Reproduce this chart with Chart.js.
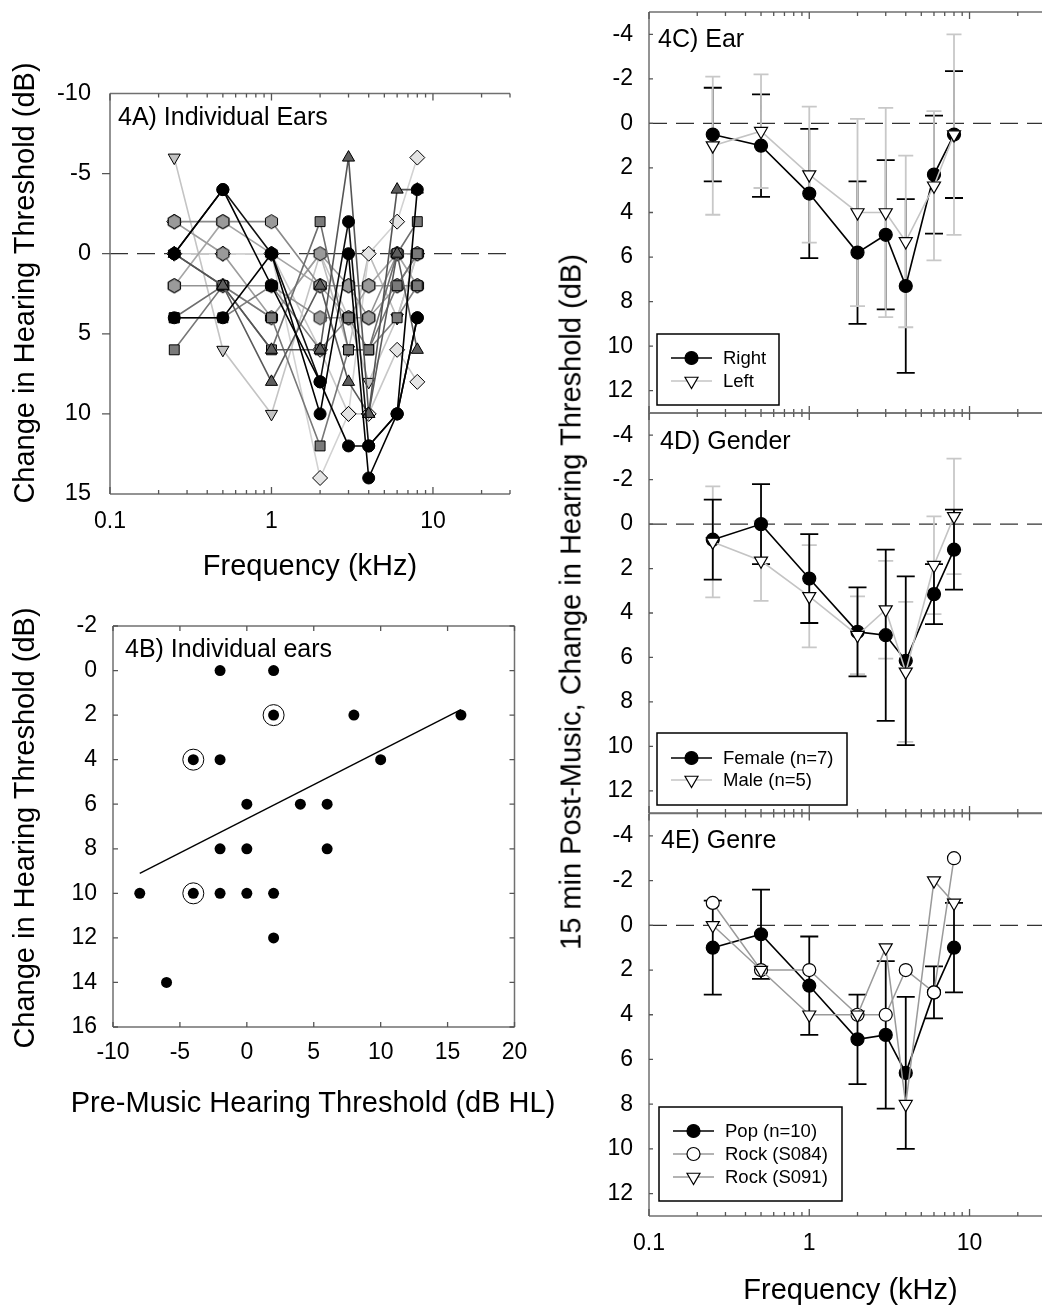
<!DOCTYPE html>
<html><head><meta charset="utf-8">
<script src="https://cdn.jsdelivr.net/npm/chart.js@4.4.1/dist/chart.umd.min.js"></script>
<style>
html,body{margin:0;padding:0;background:#fff;}
#page{position:relative;width:1042px;height:1307px;overflow:hidden;background:#fff;font-family:"Liberation Sans",Arial,sans-serif;color:#000;}
canvas{position:absolute;left:0;}
.t{position:absolute;white-space:nowrap;line-height:1;}
.rot{transform:translate(-50%,-50%) rotate(-90deg);}
.ctr{transform:translate(-50%,0);}
.pl{font-size:25px;}
.ax{font-size:29px;}
</style></head><body><div id="page">
<canvas id="cA" width="1042" height="1347" style="top:-40px"></canvas>
<canvas id="cB" width="1042" height="1347" style="top:-40px"></canvas>
<canvas id="cC" width="1060" height="1347" style="top:-40px"></canvas>
<canvas id="cD" width="1060" height="1347" style="top:-40px"></canvas>
<canvas id="cE" width="1060" height="1347" style="top:-40px"></canvas>
<div class="t pl" style="left:118px;top:104px;">4A) Individual Ears</div>
<div class="t pl" style="left:125px;top:635.5px;">4B) Individual ears</div>
<div class="t pl" style="left:658px;top:25.5px;">4C) Ear</div>
<div class="t pl" style="left:660px;top:428px;">4D) Gender</div>
<div class="t pl" style="left:661px;top:827px;">4E) Genre</div>
<div class="t ax ctr" style="left:310px;top:550.5px;">Frequency (kHz)</div>
<div class="t ax ctr" style="left:313px;top:1088px;">Pre-Music Hearing Threshold (dB HL)</div>
<div class="t ax ctr" style="left:850.5px;top:1274.5px;">Frequency (kHz)</div>
<div class="t ax rot" style="left:24px;top:283px;">Change in Hearing Threshold (dB)</div>
<div class="t ax rot" style="left:24px;top:828px;">Change in Hearing Threshold (dB)</div>
<div class="t ax rot" style="left:571px;top:602px;">15 min Post-Music, Change in Hearing Threshold (dB)</div>
</div>
<script>
// ================= DATA =================
const freqsKHz = [0.25, 0.5, 1, 2, 3, 4, 6, 8];
const freqTickValues = [0.1,0.2,0.3,0.4,0.5,0.6,0.7,0.8,0.9,1,2,3,4,5,6,7,8,9,10,20,30];
const freqLabelValues = [0.1, 1, 10];
const freqLabelTexts = ['0.1', '1', '10'];

// 4A) individual ears (change in threshold, dB)
const earB1 = [0, -4, 2, 8, 12, 12, 10, 4];
const earB2 = [4, 4, 0, 10, 0, 14, 10, -4];
const earB3 = [0, -4, 0, 8, -2, 12, 10, 4];
const earT1 = [0, 2, 6, 6, -6, 10, -4, -4];
const earT2 = [0, 2, 8, 2, 8, 10, 0, 6];
const earS1 = [4, 2, 6, -2, 6, 6, 0, -2];
const earS2 = [6, 2, 4, 12, 6, 6, 2, 0];
const earS3 = [4, 4, 2, 6, 4, 6, 4, 2];
const earH1 = [-2, -2, -2, 2, 2, 2, 2, 2];
const earH2 = [2, 2, 2, 4, 4, 4, 0, 0];
const earH3 = [-2, 0, 4, 0, 2, 4, 2, 0];
const earH4 = [2, -2, 0, 2, 4, 2, 0, 2];
const earD1 = [-2, 0, 0, 14, 10, 0, -2, -6];
const earD2 = [0, 0, 0, 6, 10, 10, 6, 8];
const earTD1 = [-6, 6, 10, 0, 4, 8, 4, 0];
const earTD2 = [0, 2, 4, 0, 6, 0, 4, 0];
const panelAYTicks = [-10, -5, 0, 5, 10, 15];

// 4B) threshold shift vs pre-music threshold
const preMusicHL = [-2, 2, 2, 8, 16, -4, -2, 10, 0, 4, 6, -2, 0, 6, -8, -4, -2, 0, 2, 2, -6];
const shiftDB    = [0, 0, 2, 2, 2, 4, 4, 4, 6, 6, 6, 8, 8, 8, 10, 10, 10, 10, 10, 12, 14];
const circledHL = [2, -4, -4];
const circledShift = [2, 4, 10];
const fitHL = [-8, 16];
const fitShift = [9.1, 1.75];
const panelBXTicks = [-10, -5, 0, 5, 10, 15, 20];
const panelBYTicks = [-2, 0, 2, 4, 6, 8, 10, 12, 14, 16];

// 4C) ear
const rightMean = [0.5, 1.0, 3.15, 5.8, 5.0, 7.3, 2.3, 0.5];
const rightSD   = [2.1, 2.3, 2.9, 3.2, 3.35, 3.9, 2.65, 2.85];
const leftMean  = [1.0, 0.35, 2.3, 4.0, 4.0, 5.3, 2.8, 0.5];
const leftSD    = [3.1, 2.55, 3.05, 4.2, 4.7, 3.85, 3.35, 4.5];
// 4D) gender
const femaleMean = [0.7, 0.0, 2.45, 4.85, 5.0, 6.15, 3.15, 1.15];
const femaleSD   = [1.8, 1.8, 2.0, 2.0, 3.85, 3.8, 1.35, 1.8];
const maleMean   = [0.8, 1.65, 3.25, 5.0, 3.85, 6.65, 1.85, -0.35];
const maleSD     = [2.5, 1.8, 2.3, 1.75, 2.2, 3.15, 2.2, 2.6];
// 4E) genre
const popMean  = [1.0, 0.4, 2.7, 5.1, 4.9, 6.6, 3.0, 1.0];
const popSD    = [2.1, 2.0, 2.2, 2.0, 3.3, 3.4, 1.16, 2.0];
const rockS084 = [-1, 2, 2, 4, 4, 2, 3, -3];
const rockS091 = [0, 2, 4, 4, 1, 8, -2, -1];
const meanPanelYTicks = [-4, -2, 0, 2, 4, 6, 8, 10, 12];

// ================= HELPERS =================
const FONT = '"Liberation Sans", Arial, sans-serif';
Chart.defaults.font.family = FONT;
Chart.defaults.color = '#000';
const PAGE_H = 1307;
const OFF = 40; // canvases start 40px above the page so top labels never push the plot

function pts(xs, ys) { return ys.map((v, i) => ({ x: xs[i], y: v })); }

function hexImage(fill, r) {
  const c = document.createElement('canvas');
  const s = Math.ceil(2 * r + 3);
  c.width = s; c.height = s;
  const g = c.getContext('2d');
  g.beginPath();
  for (let k = 0; k < 6; k++) {
    const a = -Math.PI / 2 + k * Math.PI / 3;
    const px = s / 2 + r * Math.cos(a), py = s / 2 + r * Math.sin(a);
    if (k === 0) g.moveTo(px, py); else g.lineTo(px, py);
  }
  g.closePath();
  g.fillStyle = fill; g.fill();
  g.strokeStyle = '#000'; g.lineWidth = 1; g.stroke();
  return c;
}

function drawMarker(ctx, m, x, y) {
  ctx.save();
  ctx.beginPath();
  if (m.shape === 'circle') {
    ctx.arc(x, y, m.r, 0, Math.PI * 2);
  } else {
    let rad = Math.PI;
    for (let k = 0; k < 3; k++) {
      const px = x + Math.sin(rad) * m.r, py = y - Math.cos(rad) * m.r;
      if (k === 0) ctx.moveTo(px, py); else ctx.lineTo(px, py);
      rad += 2 * Math.PI / 3;
    }
    ctx.closePath();
  }
  ctx.fillStyle = m.fill; ctx.fill();
  ctx.strokeStyle = '#000'; ctx.lineWidth = 1.2; ctx.stroke();
  ctx.restore();
}

function framePlugin(o) {
  return {
    id: 'frame',
    afterDatasetsDraw(chart) {
      const { ctx, chartArea: a, scales: { x, y } } = chart;
      ctx.save();
      ctx.strokeStyle = '#707070'; ctx.lineWidth = 1.5;
      ctx.beginPath();
      if (o.left) { ctx.moveTo(a.left, a.top); ctx.lineTo(a.left, a.bottom); }
      if (o.right) { ctx.moveTo(a.right, a.top); ctx.lineTo(a.right, a.bottom); }
      if (o.top) { ctx.moveTo(a.left, a.top); ctx.lineTo(a.right, a.top); }
      if (o.bottom) { ctx.moveTo(a.left, a.bottom); ctx.lineTo(a.right, a.bottom); }
      ctx.stroke();
      ctx.strokeStyle = '#555'; ctx.lineWidth = 1.3;
      ctx.beginPath();
      (o.xTicks || []).forEach(v => {
        const px = x.getPixelForValue(v);
        const L = (o.xMajor || []).includes(v) ? o.xMajorLen : o.xLen;
        if (o.top) { ctx.moveTo(px, a.top); ctx.lineTo(px, a.top + L); }
        if (o.bottom) { ctx.moveTo(px, a.bottom); ctx.lineTo(px, a.bottom - L); }
      });
      (o.yTicks || []).forEach(v => {
        const py = y.getPixelForValue(v);
        if (o.yLeft) { ctx.moveTo(a.left, py); ctx.lineTo(a.left + o.yLeft, py); }
        if (o.yRight) { ctx.moveTo(a.right, py); ctx.lineTo(a.right - o.yRight, py); }
      });
      ctx.stroke();
      ctx.restore();
    }
  };
}

const zeroLinePlugin = {
  id: 'zeroline',
  beforeDatasetsDraw(chart) {
    const { ctx, chartArea: a, scales: { y } } = chart;
    const py = y.getPixelForValue(0);
    ctx.save();
    ctx.strokeStyle = '#333'; ctx.lineWidth = 1.3; ctx.setLineDash([18, 9]);
    ctx.beginPath(); ctx.moveTo(a.left, py); ctx.lineTo(a.right, py); ctx.stroke();
    ctx.restore();
  }
};

function errorBarPlugin(list) {
  return {
    id: 'errbars',
    beforeDatasetsDraw(chart) {
      const { ctx, scales: { x, y } } = chart;
      ctx.save();
      list.forEach(eb => {
        ctx.strokeStyle = eb.color; ctx.lineWidth = eb.width;
        ctx.beginPath();
        eb.mean.forEach((m, i) => {
          const px = x.getPixelForValue(freqsKHz[i]);
          const y1 = y.getPixelForValue(m - eb.sd[i]);
          const y2 = y.getPixelForValue(m + eb.sd[i]);
          ctx.moveTo(px, y1); ctx.lineTo(px, y2);
          ctx.moveTo(px - eb.cap, y1); ctx.lineTo(px + eb.cap, y1);
          ctx.moveTo(px - eb.cap, y2); ctx.lineTo(px + eb.cap, y2);
        });
        ctx.stroke();
      });
      ctx.restore();
    }
  };
}

function legendPlugin(box) {
  return {
    id: 'legbox',
    afterDatasetsDraw(chart) {
      const ctx = chart.ctx;
      const by = box.y + OFF;
      ctx.save();
      ctx.fillStyle = '#fff';
      ctx.fillRect(box.x, by, box.w, box.h);
      ctx.strokeStyle = '#000'; ctx.lineWidth = 1.5;
      ctx.strokeRect(box.x, by, box.w, box.h);
      box.items.forEach((it, k) => {
        const cy = by + box.first + k * box.gap;
        ctx.strokeStyle = it.line; ctx.lineWidth = 1.5;
        ctx.beginPath(); ctx.moveTo(box.x + 14, cy); ctx.lineTo(box.x + 55, cy); ctx.stroke();
        drawMarker(ctx, it, box.x + 34.5, cy);
        ctx.fillStyle = '#000';
        ctx.font = '18.5px ' + FONT;
        ctx.textBaseline = 'middle';
        ctx.fillText(it.label, box.x + 66, cy + 1);
      });
      ctx.restore();
    }
  };
}

function logX(showLabels) {
  return {
    type: 'logarithmic', min: 0.1, max: 30,
    afterBuildTicks: s => { s.ticks = freqTickValues.map(v => ({ value: v })); },
    ticks: {
      autoSkip: false, maxRotation: 0, padding: 14, font: { size: 23 },
      callback: v => { if (!showLabels) return ''; const i = freqLabelValues.indexOf(v); return i >= 0 ? freqLabelTexts[i] : ''; }
    }
  };
}

function makeChart(id, area, canvasW, datasets, xOpt, yOpt, plugins) {
  const noGrid = { display: false, drawTicks: false, tickLength: 0 };
  xOpt.grid = noGrid; xOpt.border = { display: false };
  yOpt.grid = { ...noGrid }; yOpt.border = { display: false };
  xOpt.afterFit = s => { s.height = PAGE_H - area.bottom; };
  yOpt.afterFit = s => { s.width = area.left; };
  return new Chart(document.getElementById(id), {
    type: 'scatter',
    data: { datasets },
    options: {
      responsive: false, animation: false, devicePixelRatio: 1, events: [],
      layout: { autoPadding: false, padding: { left: 0, top: area.top + OFF, right: canvasW - area.right, bottom: 0 } },
      plugins: { legend: { display: false }, tooltip: { enabled: false }, title: { display: false } },
      scales: { x: xOpt, y: yOpt }
    },
    plugins
  });
}

function fixedYTicks(list) { return s => { s.ticks = list.map(v => ({ value: v })); }; }

// ================= 4A =================
const hexMid = hexImage('#9a9a9a', 7);
const earStyles = [
  { v: earB1, ps: 'circle', r: 6, rot: 0, fill: '#000', line: '#000' },
  { v: earB2, ps: 'circle', r: 6, rot: 0, fill: '#000', line: '#000' },
  { v: earB3, ps: 'circle', r: 6, rot: 0, fill: '#000', line: '#111' },
  { v: earT1, ps: 'triangle', r: 7, rot: 0, fill: '#5e5e5e', line: '#555' },
  { v: earT2, ps: 'triangle', r: 7, rot: 0, fill: '#5e5e5e', line: '#5a5a5a' },
  { v: earS1, ps: 'rect', r: 7, rot: 0, fill: '#7a7a7a', line: '#6e6e6e' },
  { v: earS2, ps: 'rect', r: 7, rot: 0, fill: '#7a7a7a', line: '#777' },
  { v: earS3, ps: 'rect', r: 7, rot: 0, fill: '#7a7a7a', line: '#808080' },
  { v: earH1, ps: hexMid, r: 6, rot: 0, fill: '#9a9a9a', line: '#8a8a8a' },
  { v: earH2, ps: hexMid, r: 6, rot: 0, fill: '#9a9a9a', line: '#939393' },
  { v: earH3, ps: hexMid, r: 6, rot: 0, fill: '#9a9a9a', line: '#9c9c9c' },
  { v: earH4, ps: hexMid, r: 6, rot: 0, fill: '#9a9a9a', line: '#a5a5a5' },
  { v: earD1, ps: 'rectRot', r: 7.5, rot: 0, fill: '#e4e4e4', line: '#d2d2d2' },
  { v: earD2, ps: 'rectRot', r: 7.5, rot: 0, fill: '#e4e4e4', line: '#c8c8c8' },
  { v: earTD1, ps: 'triangle', r: 7, rot: 180, fill: '#c2c2c2', line: '#c4c4c4' },
  { v: earTD2, ps: 'triangle', r: 7, rot: 180, fill: '#c2c2c2', line: '#bcbcbc' }
];
const dsA = earStyles.map(s => ({
  data: pts(freqsKHz, s.v), showLine: true, borderColor: s.line, borderWidth: 1.6,
  pointStyle: s.ps, pointRadius: s.r, pointRotation: s.rot,
  pointBackgroundColor: s.fill, pointBorderColor: '#000', pointBorderWidth: 1, clip: false
}));
makeChart('cA', { left: 110, top: 93.5, right: 510, bottom: 494 }, 1042, dsA,
  logX(true),
  { type: 'linear', reverse: true, min: -10, max: 15, afterBuildTicks: fixedYTicks(panelAYTicks),
    ticks: { padding: 19, font: { size: 23.5 } } },
  [zeroLinePlugin, framePlugin({ left: true, top: true, bottom: true, xTicks: freqTickValues, xMajor: freqLabelValues, xLen: 4, xMajorLen: 7, yTicks: [-5, 0, 5, 10], yLeft: -8 })]
);

// ================= 4B =================
const dsB = [
  { data: pts(preMusicHL, shiftDB), pointRadius: 5.5, pointBackgroundColor: '#000', pointBorderWidth: 0, clip: false },
  { data: pts(circledHL, circledShift), pointRadius: 10.5, pointBackgroundColor: 'rgba(0,0,0,0)', pointBorderColor: '#000', pointBorderWidth: 1, clip: false },
  { data: pts(fitHL, fitShift), showLine: true, pointRadius: 0, borderColor: '#000', borderWidth: 1.4 }
];
makeChart('cB', { left: 113, top: 626, right: 514.5, bottom: 1027 }, 1042, dsB,
  { type: 'linear', min: -10, max: 20, afterBuildTicks: fixedYTicks(panelBXTicks), ticks: { padding: 12, font: { size: 23 }, maxRotation: 0, autoSkip: false } },
  { type: 'linear', reverse: true, min: -2, max: 16, afterBuildTicks: fixedYTicks(panelBYTicks), ticks: { padding: 16, font: { size: 23 } } },
  [framePlugin({ left: true, right: true, top: true, bottom: true, xTicks: panelBXTicks, xMajor: [], xLen: 5, yTicks: panelBYTicks, yLeft: 5, yRight: 5 })]
);

// ================= 4C / 4D / 4E =================
function meanDS(vals, line, shape, fill, lw) {
  return {
    data: pts(freqsKHz, vals), showLine: true, borderColor: line, borderWidth: lw || 1.6,
    pointStyle: shape === 'circle' ? 'circle' : 'triangle',
    pointRadius: shape === 'circle' ? 6.5 : 7.5,
    pointRotation: shape === 'circle' ? 0 : 180,
    pointBackgroundColor: fill, pointBorderColor: '#000', pointBorderWidth: 1.2, clip: false
  };
}
const LIGHT = '#c4c4c4';
const MID = '#9a9a9a';
const areaC = { left: 649, top: 12, right: 1047.8, bottom: 413 };
const areaD = { left: 649, top: 413, right: 1047.8, bottom: 813 };
const areaE = { left: 649, top: 813.5, right: 1047.8, bottom: 1216 };
function meanY() {
  return { type: 'linear', reverse: true, min: -5, max: 13, afterBuildTicks: fixedYTicks(meanPanelYTicks), ticks: { padding: 16, font: { size: 23 } } };
}
const meanFrame = () => framePlugin({ left: true, top: true, bottom: true, xTicks: freqTickValues, xMajor: freqLabelValues, xLen: 4, xMajorLen: 7, yTicks: meanPanelYTicks, yLeft: 4 });

makeChart('cC', areaC, 1060,
  [meanDS(leftMean, LIGHT, 'tri', '#fff'), meanDS(rightMean, '#000', 'circle', '#000')],
  logX(false), meanY(),
  [zeroLinePlugin,
   errorBarPlugin([
     { mean: rightMean, sd: rightSD, color: '#000', width: 1.8, cap: 9 },
     { mean: leftMean, sd: leftSD, color: '#c8c8c8', width: 1.8, cap: 7.5 }
   ]),
   meanFrame(),
   legendPlugin({ x: 657, y: 334, w: 122, h: 71, first: 24, gap: 23, items: [
     { label: 'Right', line: '#000', shape: 'circle', r: 6.5, fill: '#000' },
     { label: 'Left', line: LIGHT, shape: 'tri', r: 7.5, fill: '#fff' }
   ] })]
);

makeChart('cD', areaD, 1060,
  [meanDS(maleMean, LIGHT, 'tri', '#fff'), meanDS(femaleMean, '#000', 'circle', '#000')],
  logX(false), meanY(),
  [zeroLinePlugin,
   errorBarPlugin([
     { mean: maleMean, sd: maleSD, color: '#c8c8c8', width: 1.8, cap: 7.5 },
     { mean: femaleMean, sd: femaleSD, color: '#000', width: 1.8, cap: 9 }
   ]),
   meanFrame(),
   legendPlugin({ x: 657, y: 733, w: 190, h: 72, first: 25, gap: 22, items: [
     { label: 'Female (n=7)', line: '#000', shape: 'circle', r: 6.5, fill: '#000' },
     { label: 'Male (n=5)', line: LIGHT, shape: 'tri', r: 7.5, fill: '#fff' }
   ] })]
);

makeChart('cE', areaE, 1060,
  [meanDS(rockS091, MID, 'tri', '#fff', 1.5), meanDS(rockS084, MID, 'circle', '#fff', 1.5), meanDS(popMean, '#000', 'circle', '#000')],
  logX(true), meanY(),
  [zeroLinePlugin,
   errorBarPlugin([{ mean: popMean, sd: popSD, color: '#000', width: 1.8, cap: 9 }]),
   meanFrame(),
   legendPlugin({ x: 659, y: 1107, w: 183, h: 94, first: 24, gap: 23, items: [
     { label: 'Pop (n=10)', line: '#000', shape: 'circle', r: 6.5, fill: '#000' },
     { label: 'Rock (S084)', line: MID, shape: 'circle', r: 6.5, fill: '#fff' },
     { label: 'Rock (S091)', line: MID, shape: 'tri', r: 7.5, fill: '#fff' }
   ] })]
);
</script>
</body></html>
